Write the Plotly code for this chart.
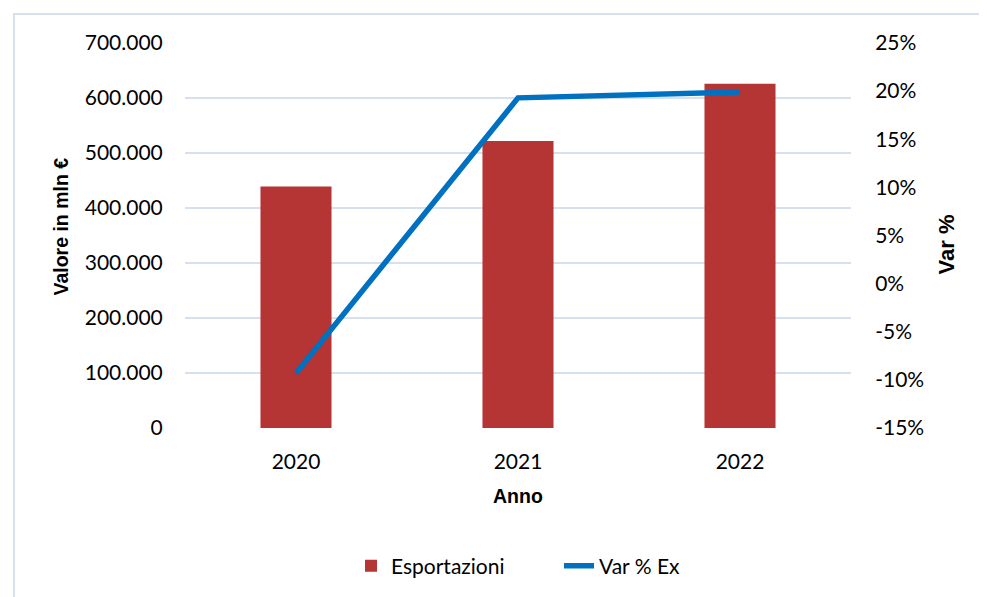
import plotly.graph_objects as go

years = ["2020", "2021", "2022"]
esportazioni = [439000, 522000, 626000]
var_pct = [-9.3, 19.3, 19.9]

left_tickvals = [0, 100000, 200000, 300000, 400000, 500000, 600000, 700000]
left_ticktext = ["0", "100.000", "200.000", "300.000", "400.000", "500.000", "600.000", "700.000"]
right_tickvals = [-15, -10, -5, 0, 5, 10, 15, 20, 25]
right_ticktext = ["-15%", "-10%", "-5%", "0%", "5%", "10%", "15%", "20%", "25%"]

FONT = "Lato"
TFONT = "Liberation Sans"
OFF = 8  # page body margin
W, H = 987 - OFF, 597 - OFF
# screen-space plot area: x 185..851, y 43..429
L, T = 185 - OFF, 43 - OFF
R = W - (851 - OFF)
B = H - (429 - OFF)
pw, ph = W - L - R, H - T - B

def px_x(x):  # screen px -> paper
    return (x - OFF - L) / pw

def px_y(y):
    return (H - B - (y - OFF)) / ph

fig = go.Figure()
fig.add_trace(go.Bar(
    x=years, y=esportazioni, name="Esportazioni",
    marker=dict(color="#B43533", line=dict(width=0)),
    width=0.32, yaxis="y",
))
fig.add_trace(go.Scatter(
    x=years, y=var_pct, name="Var % Ex", mode="lines",
    line=dict(color="#0070C0", width=5.5), yaxis="y2",
))

fig.update_layout(
    width=W, height=H,
    margin=dict(l=L, r=R, t=T, b=B, pad=0),
    paper_bgcolor="white", plot_bgcolor="white",
    font=dict(family=FONT, size=21, color="#000000"),
    showlegend=True,
    legend=dict(orientation="h", x=px_x(351), xanchor="left", y=px_y(566), yanchor="middle",
                font=dict(family=FONT, size=21), entrywidth=163, entrywidthmode="pixels",
                traceorder="normal"),
    xaxis=dict(type="category", showgrid=False, showline=False, zeroline=False,
               ticks="outside", ticklen=15, tickcolor="rgba(0,0,0,0)",
               tickfont=dict(family=FONT, size=21)),
    yaxis=dict(range=[0, 700000], tickvals=left_tickvals, ticktext=left_ticktext,
               showgrid=True, gridcolor="#D6E1F0", gridwidth=1.5, zeroline=False,
               showline=False, ticks="outside", ticklen=17, tickcolor="rgba(0,0,0,0)",
               tickfont=dict(family=FONT, size=21)),
    yaxis2=dict(range=[-15, 25], tickvals=right_tickvals, ticktext=right_ticktext,
                overlaying="y", side="right", showgrid=False, zeroline=False,
                showline=False, ticks="outside", ticklen=19, tickcolor="rgba(0,0,0,0)",
                tickfont=dict(family=FONT, size=21)),
    annotations=[
        dict(text="<b>Valore in mln €</b>", x=px_x(61), y=px_y(227), xref="paper", yref="paper",
             textangle=-90, showarrow=False, font=dict(family=TFONT, size=19.5),
             xanchor="center", yanchor="middle"),
        dict(text="<b>Var %</b>", x=px_x(946), y=px_y(245), xref="paper", yref="paper",
             textangle=-90, showarrow=False, font=dict(family=TFONT, size=22),
             xanchor="center", yanchor="middle"),
        dict(text="<b>Anno</b>", x=px_x(518), y=px_y(497), xref="paper", yref="paper",
             showarrow=False, font=dict(family=TFONT, size=19.5),
             xanchor="center", yanchor="middle"),
    ],
    shapes=[
        dict(type="rect", xref="paper", yref="paper",
             x0=px_x(14), x1=px_x(1100), y0=px_y(700), y1=px_y(14),
             line=dict(color="#D6E1F0", width=2), fillcolor="rgba(0,0,0,0)", layer="below"),
    ],
)

fig.write_html("out.html")
